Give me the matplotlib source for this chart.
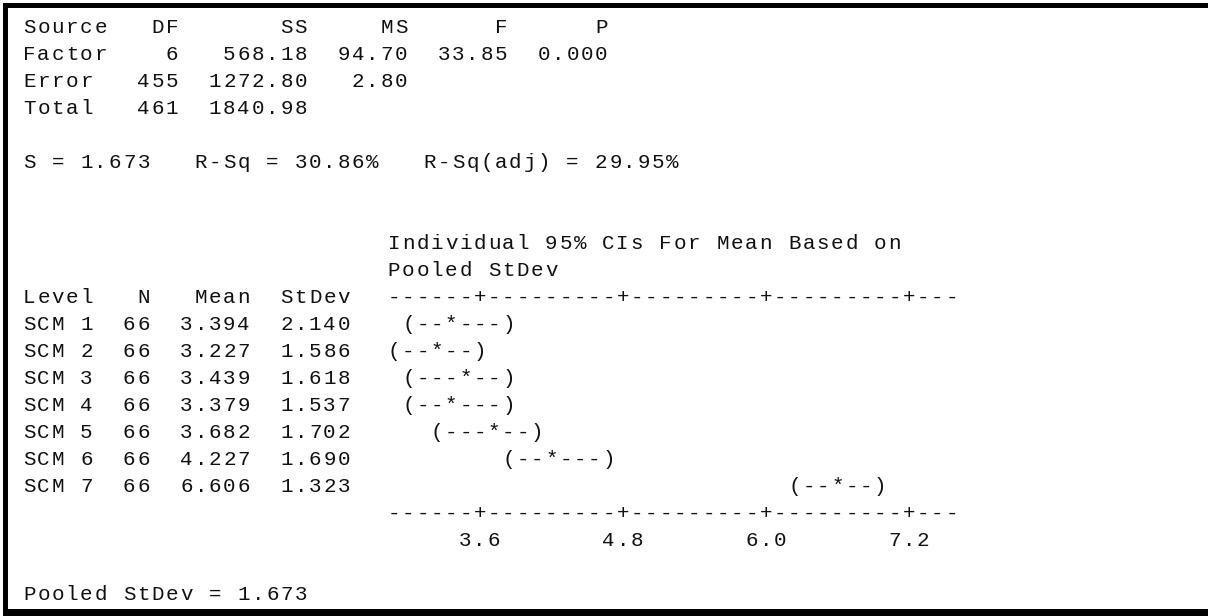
import matplotlib
matplotlib.use("Agg")
import matplotlib.pyplot as plt
from matplotlib.patches import Rectangle

# ---------------- data ----------------
anova_source = ["Factor", "Error", "Total"]
anova_df = [6, 455, 461]
anova_ss = [568.18, 1272.80, 1840.98]
anova_ms = [94.70, 2.80]
anova_f = 33.85
anova_p = 0.000
fit_s = 1.673
fit_rsq = 30.86
fit_rsq_adj = 29.95

levels = ["SCM 1", "SCM 2", "SCM 3", "SCM 4", "SCM 5", "SCM 6", "SCM 7"]
level_n = [66, 66, 66, 66, 66, 66, 66]
level_mean = [3.394, 3.227, 3.439, 3.379, 3.682, 4.227, 6.606]
level_sd = [2.140, 1.586, 1.618, 1.537, 1.702, 1.690, 1.323]
ci_lower = [2.99, 2.83, 3.03, 2.97, 3.28, 3.82, 6.20]
ci_upper = [3.80, 3.63, 3.84, 3.79, 4.09, 4.63, 7.01]
axis_ticks = [3.6, 4.8, 6.0, 7.2]
axis_tick_labels = ["3.6", "4.8", "6.0", "7.2"]
pooled_sd = 1.673

# ---------------- layout ----------------
W, H = 1208, 616
X0 = 22.0        # left text origin (px)
CI_X0 = 15.0     # origin of CI block grid (px)
PITCH = 14.3     # character pitch (px)
Y0 = 26.0        # first line centre (px)
LINE = 27.0      # line spacing (px)
CAP = 13.5
FONT = ["Liberation Mono", "DejaVu Sans Mono"]
FS = 15.0
TXT = "#111111"
CI_COL = 26                  # column where CI block starts
CHARS_PER_TICK = 10
LEAD, TRAIL = 6, 3

fig = plt.figure(figsize=(W / 100, H / 100), dpi=100)
fig.patch.set_facecolor("white")
ax = fig.add_axes([0, 0, 1, 1])
ax.set_xlim(0, W)
ax.set_ylim(H, 0)
ax.axis("off")


def base_y(k):
    return Y0 + k * LINE + CAP / 2


def put(k, col, s, x0=X0):
    for i, ch in enumerate(s):
        if ch != " ":
            ax.text(x0 + (col + i + 0.5) * PITCH, base_y(k), ch, ha="center",
                    va="baseline", fontsize=FS, family=FONT, color=TXT)


def rput(k, endcol, s):
    put(k, endcol - len(s) + 1, s)


# frame (left, top, bottom)
ax.add_patch(Rectangle((3, 3), 5, H - 3, color="black", lw=0))
ax.add_patch(Rectangle((3, 3), W - 3, 5, color="black", lw=0))
ax.add_patch(Rectangle((3, 609), W - 3, 7, color="black", lw=0))

# ANOVA table
put(0, 0, "Source")
for endc, lab in zip([10, 19, 26, 33, 40], ["DF", "SS", "MS", "F", "P"]):
    rput(0, endc, lab)
for i, src in enumerate(anova_source):
    k = 1 + i
    put(k, 0, src)
    rput(k, 10, str(anova_df[i]))
    rput(k, 19, f"{anova_ss[i]:.2f}")
    if i < len(anova_ms):
        rput(k, 26, f"{anova_ms[i]:.2f}")
    if i == 0:
        rput(k, 33, f"{anova_f:.2f}")
        rput(k, 40, f"{anova_p:.3f}")

put(5, 0, f"S = {fit_s:.3f}   R-Sq = {fit_rsq:.2f}%   R-Sq(adj) = {fit_rsq_adj:.2f}%")

# CI header
put(8, CI_COL, "Individual 95% CIs For Mean Based on", x0=CI_X0)
put(9, CI_COL, "Pooled StDev", x0=CI_X0)

# level table
put(10, 0, "Level")
rput(10, 8, "N")
rput(10, 15, "Mean")
rput(10, 22, "StDev")
for i, lev in enumerate(levels):
    k = 11 + i
    put(k, 0, lev)
    rput(k, 8, str(level_n[i]))
    rput(k, 15, f"{level_mean[i]:.3f}")
    rput(k, 22, f"{level_sd[i]:.3f}")

# ---------------- CI chart on a value-scaled axes ----------------
step = (axis_ticks[1] - axis_ticks[0]) / CHARS_PER_TICK
tick_col = CI_COL + LEAD
b = PITCH / step
a = CI_X0 + (tick_col + 0.5) * PITCH - axis_ticks[0] * b
axc = fig.add_axes([0, 0, 1, 1])
axc.set_xlim(-a / b, (W - a) / b)
axc.set_ylim(H, 0)
axc.axis("off")
axc.patch.set_alpha(0)


def snap(v):
    return round((v - axis_ticks[0]) / step)


def ch_at(k, idx, ch):
    axc.text(axis_ticks[0] + idx * step, base_y(k), ch, ha="center",
             va="baseline", fontsize=FS, family=FONT, color=TXT)


def axis_line(k):
    first = -LEAD
    last = snap(axis_ticks[-1]) + TRAIL
    tick_idx = {snap(t) for t in axis_ticks}
    for idx in range(first, last + 1):
        ch_at(k, idx, "+" if idx in tick_idx else "-")


axis_line(10)
axis_line(18)
for t, lab in zip(axis_ticks, axis_tick_labels):
    c = snap(t)
    for j, ch in enumerate(lab):
        ch_at(19, c - len(lab) // 2 + j, ch)

for i in range(len(levels)):
    k = 11 + i
    lo, hi, m = snap(ci_lower[i]), snap(ci_upper[i]), snap(level_mean[i])
    for idx in range(lo, hi + 1):
        if idx == lo:
            c = "("
        elif idx == hi:
            c = ")"
        elif idx == m:
            c = "*"
        else:
            c = "-"
        ch_at(k, idx, c)

put(21, 0, f"Pooled StDev = {pooled_sd:.3f}")

fig.savefig("out.png", dpi=100, facecolor="white")
